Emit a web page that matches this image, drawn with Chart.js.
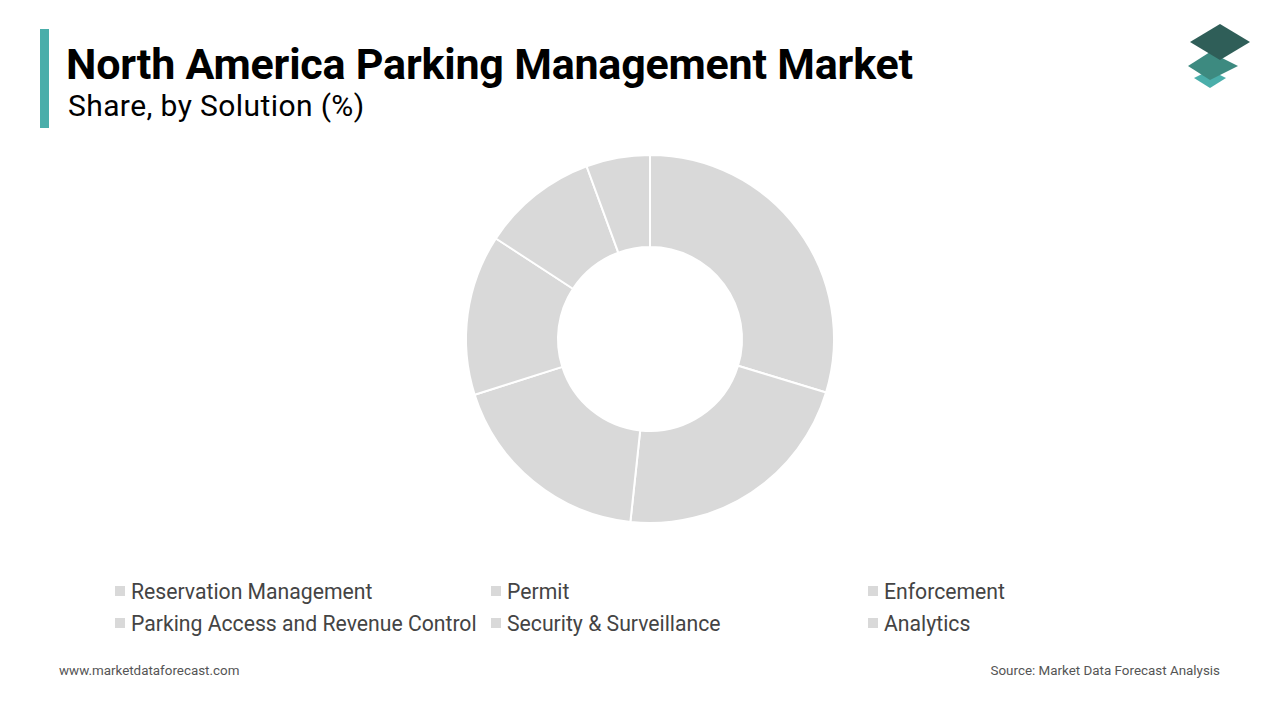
<!DOCTYPE html>
<html lang="en">
<head>
<meta charset="UTF-8">
<title>North America Parking Management Market</title>
<script src="https://cdn.jsdelivr.net/npm/chart.js"></script>
<style>
  body { margin:0; width:1280px; height:720px; background:#fff; font-family:Roboto, "Noto Sans", sans-serif; position:relative; overflow:hidden; }
  .bar { position:absolute; left:40px; top:29px; width:9px; height:99px; background:#4aaeaa; }
  h1 { position:absolute; left:66px; top:46px; margin:0; font-size:43px; line-height:36px; font-weight:700; color:#000; letter-spacing:-0.2px; }
  h2 { position:absolute; left:68px; top:92px; margin:0; font-size:30px; line-height:27px; font-weight:400; color:#000; letter-spacing:0.4px; }
  #wrap { position:absolute; left:458px; top:147px; width:384px; height:384px; }
  #legend { position:absolute; left:115px; top:579px; width:1000px; display:grid; grid-template-columns:376px 377px 250px; row-gap:8px; font-size:21.2px; color:#444; }
  #legend div { display:flex; align-items:center; height:24px; }
  #legend span.sw { width:10px; height:10px; background:#d9d9d9; margin-right:6px; display:inline-block; }
  .foot { position:absolute; top:663px; font-size:13.4px; color:#555; }
</style>
</head>
<body>
<div class="bar"></div>
<h1>North America Parking Management Market</h1>
<h2>Share, by Solution (%)</h2>
<svg style="position:absolute;left:1186px;top:22px" width="68" height="70" viewBox="0 0 68 70">
  <polygon points="24,48 40,56 24,66 8,56" fill="#4aaeaa"/>
  <polygon points="24,30 52,44 24,58 2,44" fill="#3d8a80"/>
  <polygon points="34,2 64,20 34,38 4,20" fill="#2f5e58"/>
</svg>
<div id="wrap"><canvas id="myChart"></canvas></div>
<div id="legend"></div>
<div class="foot" style="left:59px">www.marketdataforecast.com</div>
<div class="foot" style="right:60px">Source: Market Data Forecast Analysis</div>
<script>
  const labels = ['Reservation Management', 'Permit', 'Enforcement', 'Parking Access and Revenue Control', 'Security & Surveillance', 'Analytics'];
  const shares = [29.7, 22.0, 18.4, 14.1, 10.2, 5.6];
  const colors = ['#d9d9d9', '#d9d9d9', '#d9d9d9', '#d9d9d9', '#d9d9d9', '#d9d9d9'];

  const legend = document.getElementById('legend');
  labels.forEach(l => {
    const d = document.createElement('div');
    d.innerHTML = '<span class="sw"></span>' + l.replace('&', '&amp;');
    legend.appendChild(d);
  });

  new Chart(document.getElementById('myChart'), {
    type: 'doughnut',
    data: { labels: labels, datasets: [{ data: shares, backgroundColor: colors, borderColor: '#fff', borderWidth: 2 }] },
    options: {
      responsive: true, maintainAspectRatio: false, animation: false,
      cutout: '50%',
      layout: { padding: 7 },
      plugins: { legend: { display: false }, tooltip: { enabled: false } }
    }
  });
</script>
</body>
</html>
